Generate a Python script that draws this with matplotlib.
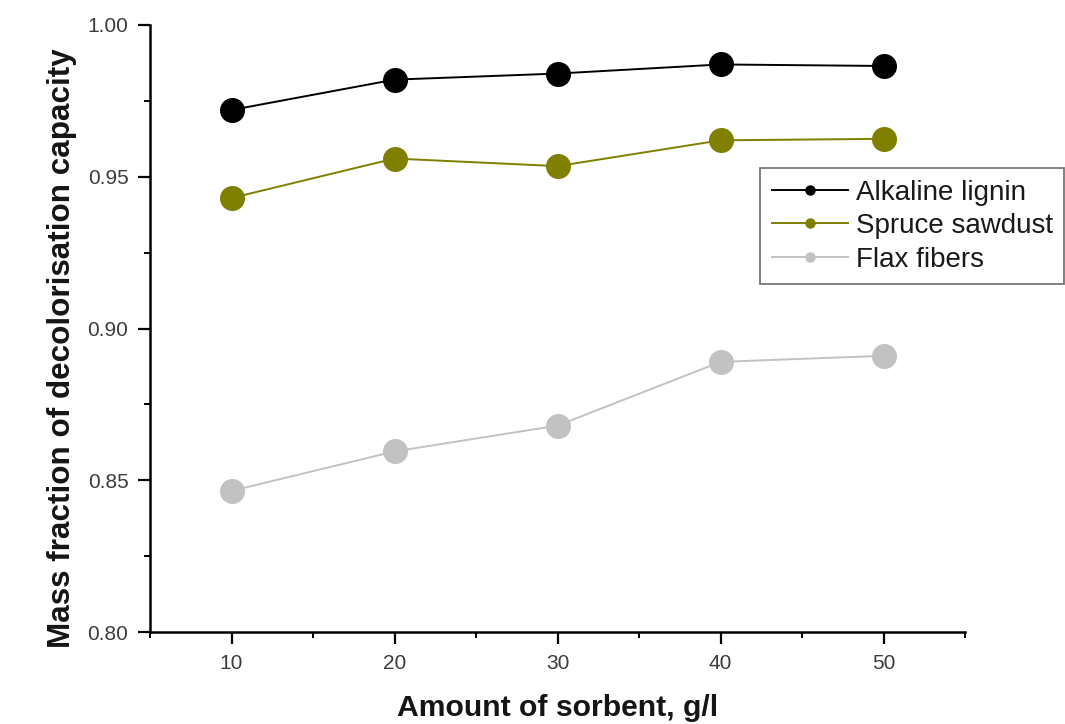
import matplotlib
matplotlib.use("Agg")
import matplotlib.pyplot as plt
from matplotlib.lines import Line2D

amount = [10, 20, 30, 40, 50]
alkaline_lignin = [0.972, 0.982, 0.984, 0.987, 0.9865]
spruce_sawdust = [0.943, 0.956, 0.9535, 0.962, 0.9625]
flax_fibers = [0.8465, 0.8595, 0.868, 0.889, 0.891]
series_names = ["Alkaline lignin", "Spruce sawdust", "Flax fibers"]
colors = ["#000000", "#7f7f00", "#c2c2c2"]

plt.rcParams['font.family'] = ['Liberation Sans', 'DejaVu Sans']

fig = plt.figure(figsize=(10.65, 7.24), dpi=100)
ax = fig.add_axes([150/1065, 92/724, 815/1065, 607/724])

for vals, name, c in zip([alkaline_lignin, spruce_sawdust, flax_fibers], series_names, colors):
    ax.plot(amount, vals, color=c, lw=1.4, marker='o', markersize=17, label=name, zorder=3)

ax.set_xlim(5, 55)
ax.set_ylim(0.80, 1.00)
ax.set_xticks(amount)
ax.set_xticks([5, 15, 25, 35, 45, 55], minor=True)
ax.set_yticks([0.80, 0.85, 0.90, 0.95, 1.00])
ax.set_yticklabels(["0.80", "0.85", "0.90", "0.95", "1.00"])
ax.set_yticks([0.825, 0.875, 0.925, 0.975], minor=True)

for s in ['top', 'right']:
    ax.spines[s].set_visible(False)
for s in ['left', 'bottom']:
    ax.spines[s].set_linewidth(1.8)

ax.tick_params(which='major', direction='out', length=8.5, width=1.6, labelsize=15,
               labelcolor='#3c3c3c', pad=7)
ax.tick_params(which='minor', direction='out', length=4.5, width=1.4)

ax.set_xlabel("Amount of sorbent, g/l", fontsize=21.7, fontweight='bold', color='#151515')
ax.set_ylabel("Mass fraction of decolorisation capacity", fontsize=22.6, fontweight='bold', color='#151515')
ax.xaxis.set_label_coords(0.5, -0.102)
ax.yaxis.set_label_coords(-0.09, 0.467)

handles = [Line2D([0], [0], color=c, lw=1.4, marker='o', markersize=6.5) for c in colors]
leg = fig.legend(handles, series_names, loc='upper left', bbox_to_anchor=(760/1065, 1 - 168/724),
                 borderaxespad=0, fontsize=20, frameon=True, fancybox=False,
                 handlelength=2.73, handletextpad=0.29, labelspacing=0.27, borderpad=0.42)
leg.get_frame().set_edgecolor('#555555')
leg.get_frame().set_linewidth(1.3)
for t in leg.get_texts():
    t.set_color('#1a1a1a')

fig.savefig("out.png", dpi=100)
